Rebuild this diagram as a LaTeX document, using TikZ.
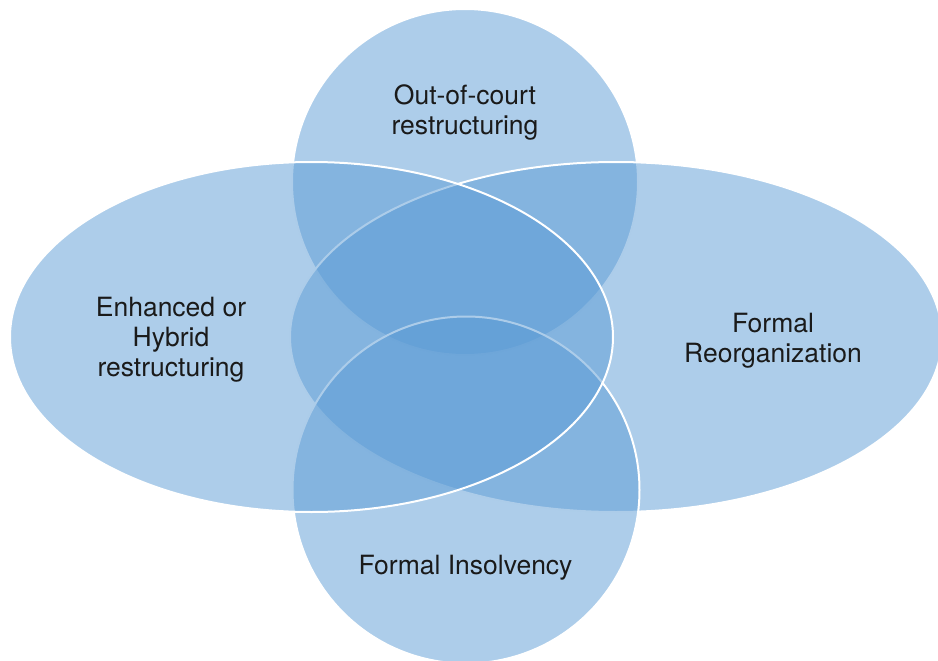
\documentclass[tikz,border=0pt]{standalone}
\usepackage{fontspec}
\setmainfont{TeX Gyre Heros}
\definecolor{venn}{HTML}{5B9BD5}
\definecolor{labeltext}{HTML}{1A1A1A}
\begin{document}
\begin{tikzpicture}[x=1pt,y=-1pt,
  setshape/.style={draw=white, line width=2pt, fill=venn, fill opacity=0.5},
  setlabel/.style={font=\fontsize{26.5}{30}\selectfont, text=labeltext,
                   align=center, anchor=base, inner sep=0pt}]
\useasboundingbox (0,0) rectangle (938,661);
\begin{scope}
  \clip (0,0) rectangle (938,661);
  % four overlapping sets, drawn back to front
  \draw[setshape] (465,182) circle[radius=173pt];
  \draw[setshape] (616,337) ellipse[x radius=326pt, y radius=175pt];
  \draw[setshape] (466,490) circle[radius=173.5pt];
  \draw[setshape] (311.5,337) ellipse[x radius=301.5pt, y radius=175pt];
\end{scope}
% labels (anchored on the baseline of their last line)
\node[setlabel] (outcourt) at (465,135) {Out-of-court\\restructuring};
\node[setlabel] (hybrid)   at (171,376) {Enhanced or\\Hybrid\\restructuring};
\node[setlabel] (reorg)    at (773,362) {Formal\\Reorganization};
\node[setlabel] (insolv)   at (465.5,574) {Formal Insolvency};
\end{tikzpicture}
\end{document}
